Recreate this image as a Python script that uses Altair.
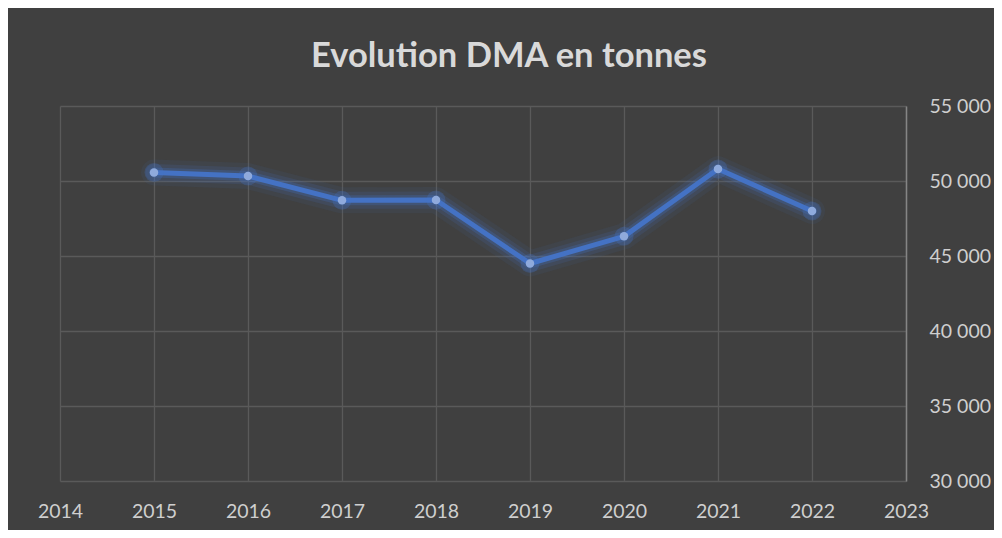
import altair as alt
import pandas as pd

years = [2015, 2016, 2017, 2018, 2019, 2020, 2021, 2022]
values = [50570, 50330, 48710, 48730, 44500, 46310, 50800, 48000]
x_ticks = list(range(2014, 2024))
y_ticks = [30000, 35000, 40000, 45000, 50000, 55000]

df = pd.DataFrame({"year": years, "value": values})

FONT = "Lato"
LABEL = "#cfcfcf"
GRID = "#5a5a5a"
BLUE = "#4472C4"

x = alt.X("year:Q",
          scale=alt.Scale(domain=[2014, 2023], nice=False, zero=False),
          axis=alt.Axis(values=x_ticks, format="d", title=None, grid=True,
                        gridColor=GRID, gridWidth=1.3, domain=False, ticks=False,
                        labelPadding=21, labelFont=FONT, labelFontSize=19.5,
                        labelColor=LABEL, labelFlush=False, labelOverlap=False))
y = alt.Y("value:Q",
          scale=alt.Scale(domain=[30000, 55000], nice=False, zero=False),
          axis=alt.Axis(orient="right", values=y_ticks, title=None, grid=True,
                        gridColor=GRID, gridWidth=1.3, domain=True,
                        domainColor="#858585", domainWidth=1.5, ticks=False,
                        labelPadding=23, labelFont=FONT, labelFontSize=19.5,
                        labelColor=LABEL, labelFlush=False, labelOverlap=False,
                        labelExpr="replace(format(datum.value, ',d'), ',', ' ')"))

base = alt.Chart(df).encode(x=x, y=y)

glow1 = base.mark_line(color=BLUE, strokeWidth=26, opacity=0.08, strokeJoin="round", strokeCap="round")
glow2 = base.mark_line(color=BLUE, strokeWidth=17, opacity=0.14, strokeJoin="round", strokeCap="round")
glow3 = base.mark_line(color=BLUE, strokeWidth=10, opacity=0.25, strokeJoin="round", strokeCap="round")
line = base.mark_line(color=BLUE, strokeWidth=5, strokeJoin="round")
pglow = base.mark_circle(color=BLUE, size=360, opacity=0.28)
points = base.mark_circle(color="#8FAADC", size=72, opacity=1)

chart = alt.layer(glow1, glow2, glow3, line, pglow, points).properties(
    width=846, height=375,
    background="#404040",
    padding={"left": 52, "top": 98, "right": 88, "bottom": 49},
    autosize=alt.AutoSizeParams(type="none"),
    title=alt.TitleParams("Evolution DMA en tonnes", font=FONT, fontSize=34.5,
                          fontWeight="bold", color="#d9d9d9", anchor="middle",
                          baseline="alphabetic", offset=0, dx=26, dy=5),
).configure_view(stroke=None)

chart.save("out.html", embed_options={"renderer": "svg", "actions": False})
